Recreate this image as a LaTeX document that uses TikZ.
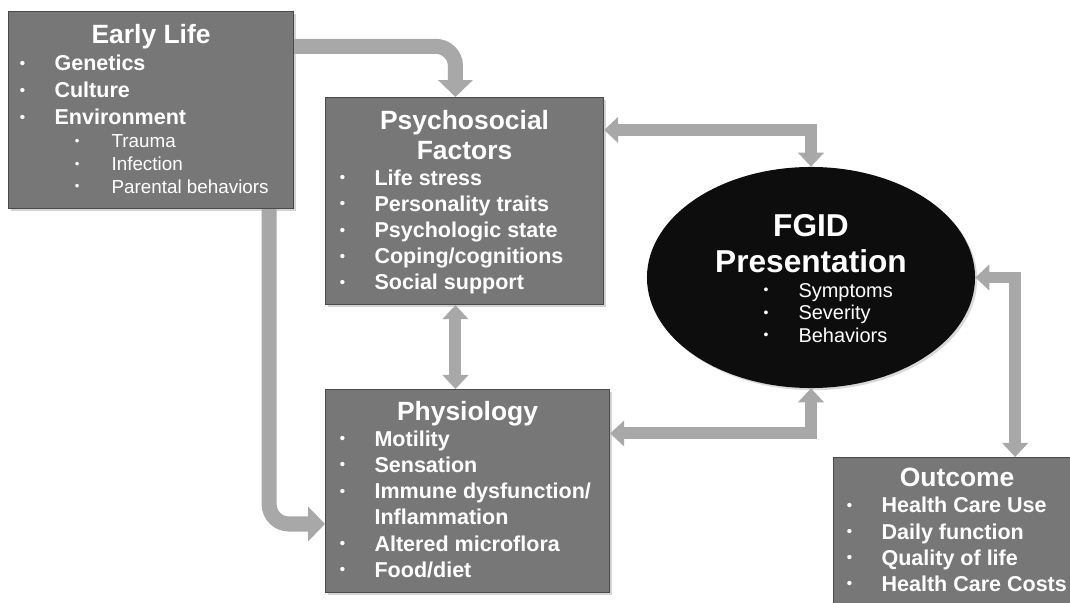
\documentclass[tikz,border=0pt]{standalone}
\usepackage{fontspec}
\setmainfont{Liberation Sans}
\usetikzlibrary{arrows.meta, shapes.geometric, shadows}
\definecolor{boxgray}{HTML}{777777}
\definecolor{edgegray}{HTML}{4A4A4A}
\definecolor{arrgray}{HTML}{A8A8A8}
\definecolor{blobblack}{HTML}{0D0D0D}
\newlength\px \setlength\px{0.025cm}
\newlength\bulind
\newcommand\bdot{\hspace*{1.2\px}\raisebox{0.12em}{\scalebox{0.7}{\textbullet}}}
\newcommand\boxtitle[1]{{\fontsize{18.8}{21.3}\selectfont\centering #1\par}}
\newcommand\itm[1]{\hspace*{\bulind}\makebox[36\px][l]{\bdot}#1\par}
\newcommand\cont[1]{\hspace*{\bulind}\hspace*{36\px}#1\par}
\newcommand\subitm[1]{{\mdseries\fontsize{13.4}{16.2}\selectfont\hspace*{\bulind}\hspace*{55\px}\makebox[38\px][l]{\bdot}#1\par}}
\newcommand\boxtext[4]{\parbox[c][#2\px][t]{#1\px}{\raggedright\bfseries\fontsize{15.3}{18.6}\selectfont\vspace*{#3\px}#4}}
\tikzset{box/.style={draw=edgegray, line width=0.8pt, fill=boxgray, text=white, anchor=north west, inner sep=0pt,
                     drop shadow={shadow xshift=1.5pt, shadow yshift=-1.5pt, opacity=.35}},
         blob/.style={ellipse, fill=blobblack, text=white, inner sep=0pt, minimum width=8.2cm, minimum height=5.525cm,
                      drop shadow={shadow xshift=1.5pt, shadow yshift=-1.5pt, opacity=.3}},
         feed/.style={draw=arrgray, line width=10.7pt, rounded corners=14pt, >={Triangle[width=24pt,length=12pt]}, ->},
         link/.style={draw=arrgray, line width=8.5pt, >={Triangle[width=18pt,length=10pt]}, <->},
        }

\begin{document}
\begin{tikzpicture}[x=0.025cm, y=-0.025cm]
        \clip(0,0)rectangle(1070,603);

        \node[box](early)at(8,11){\boxtext{285}{197}{13}{\setlength\bulind{10\px}\fontsize{15.3}{19.2}\selectfont
            \boxtitle{Early Life}\itm{Genetics}\itm{Culture}\itm{Environment}
            \subitm{Trauma}\subitm{Infection}\subitm{Parental behaviors}}};
        \node[box](psych)at(325,97){\boxtext{278}{207}{12.5}{\setlength\bulind{13\px}
            \boxtitle{Psychosocial\\Factors}\itm{Life stress}\itm{Personality traits}\itm{Psychologic state}
            \itm{Coping/cognitions}\itm{Social support}}};
        \node[box](phys)at(325,389){\boxtext{284}{203}{11.5}{\setlength\bulind{13\px}
            \boxtitle{Physiology}\itm{Motility}\itm{Sensation}\itm{Immune dysfunction/}\cont{Inflammation}
            \itm{Altered microflora}\itm{Food/diet}}};
        \node[box](outc)at(833,457){\boxtext{247}{153}{10.7}{\setlength\bulind{12\px}
            \boxtitle{Outcome}\itm{Health Care Use}\itm{Daily function}\itm{Quality of life}\itm{Health Care Costs}}};

        \node[blob](fgid)at(811,277.5){\parbox[c][140\px][t]{200\px}{\raggedright\bfseries\setlength\bulind{51.5\px}
            \vspace*{6.6\px}{\fontsize{22.5}{25.6}\selectfont\centering FGID\\Presentation\par}\vspace{2.5\px}
            {\mdseries\fontsize{14.2}{16}\selectfont\itm{Symptoms}\itm{Severity}\itm{Behaviors}}}};

        \draw[feed](early.24)-|(psych.95);
        \draw[feed](early.320)|-(phys.193);

        \draw[link](psych.27)-|(fgid.north);
        \draw[link](psych.265)--(psych.265|-phys.north);
        \draw[link](phys.22)-|(fgid.south);
        \draw[link](fgid.east)-|(outc.53);
    \end{tikzpicture}
\end{document}
